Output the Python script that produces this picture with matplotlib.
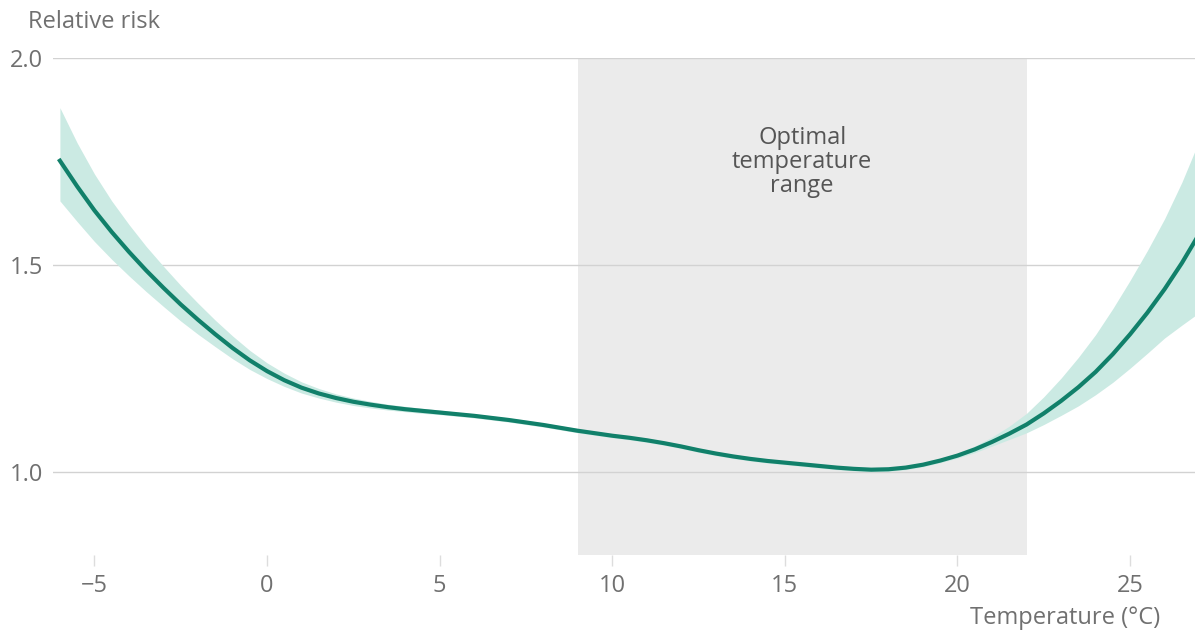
import numpy as np
import matplotlib.pyplot as plt

plt.rcParams['font.family'] = ['Open Sans', 'DejaVu Sans']

# Relative risk by daily mean temperature (every half degree), with CI band
temp = np.arange(-6, 27.5, 0.5)
risk = [1.752, 1.690, 1.632, 1.580, 1.532, 1.487, 1.445, 1.405, 1.368, 1.333,
        1.300, 1.270, 1.244, 1.222, 1.204, 1.190, 1.179, 1.170, 1.163, 1.157,
        1.152, 1.148, 1.144, 1.140, 1.136, 1.131, 1.126, 1.120, 1.114, 1.107,
        1.100, 1.094, 1.088, 1.083, 1.077, 1.070, 1.062, 1.053, 1.045, 1.038,
        1.032, 1.027, 1.023, 1.019, 1.015, 1.011, 1.008, 1.006, 1.007, 1.011,
        1.018, 1.028, 1.040, 1.055, 1.073, 1.093, 1.115, 1.142, 1.172, 1.205,
        1.242, 1.285, 1.333, 1.385, 1.442, 1.505, 1.575]
# distance from the estimate to the upper / lower confidence limit
ci_up = [0.128, 0.105, 0.088, 0.075, 0.066, 0.058, 0.052, 0.046, 0.040, 0.034,
         0.029, 0.024, 0.020, 0.017, 0.014, 0.012, 0.010, 0.009, 0.008, 0.007,
         0.007, 0.006, 0.006, 0.005, 0.005, 0.005, 0.005, 0.005, 0.005, 0.005,
         0.005, 0.005, 0.005, 0.005, 0.005, 0.005, 0.005, 0.005, 0.005, 0.005,
         0.005, 0.005, 0.005, 0.005, 0.005, 0.005, 0.005, 0.005, 0.005, 0.005,
         0.005, 0.005, 0.006, 0.008, 0.012, 0.018, 0.027, 0.040, 0.055, 0.072,
         0.090, 0.110, 0.130, 0.150, 0.170, 0.195, 0.225]
ci_down = [0.097, 0.085, 0.075, 0.066, 0.058, 0.051, 0.045, 0.040, 0.035, 0.030,
           0.026, 0.022, 0.018, 0.015, 0.013, 0.011, 0.010, 0.009, 0.008, 0.007,
           0.006, 0.006, 0.005, 0.005, 0.005, 0.005, 0.005, 0.005, 0.005, 0.005,
           0.005, 0.005, 0.005, 0.005, 0.005, 0.005, 0.005, 0.005, 0.005, 0.005,
           0.005, 0.005, 0.005, 0.005, 0.005, 0.005, 0.005, 0.005, 0.005, 0.005,
           0.005, 0.005, 0.006, 0.008, 0.010, 0.014, 0.020, 0.027, 0.035, 0.045,
           0.055, 0.068, 0.082, 0.098, 0.118, 0.150, 0.190]

optimal_range = (9, 22)
xticks = [-5, 0, 5, 10, 15, 20, 25]
yticks = [1.0, 1.5, 2.0]

GREEN = '#11806a'
BAND = '#cbeae3'
GREY_TXT = '#707070'
FS = 17

risk = np.array(risk)
upper = risk + np.array(ci_up)
lower = risk - np.array(ci_down)

fig = plt.figure(figsize=(11.95, 6.33), dpi=100)
ax = fig.add_axes([53 / 1195, 1 - 555 / 633, 1 - 53 / 1195, (555 - 58) / 633])

ax.axvspan(*optimal_range, color='#ebebeb', lw=0, zorder=0)
for y in yticks:
    ax.axhline(y, color='#d2d2d2', lw=1, zorder=1)

ax.fill_between(temp, lower, upper, color=BAND, lw=0, zorder=2)
ax.plot(temp, risk, color=GREEN, lw=3.0, solid_joinstyle='round', zorder=3)

ax.text(sum(optimal_range) / 2, 1.75, 'Optimal\ntemperature\nrange',
        ha='center', va='center', fontsize=FS, color='#555555', linespacing=1.0)

ax.set_xlim(-6.2, 26.88)
ax.set_ylim(0.8, 2.0)
ax.set_xticks(xticks)
ax.set_xticklabels(['\u22125' if t == -5 else str(t) for t in xticks])
ax.set_yticks(yticks)
ax.set_yticklabels([f'{y:.1f}' for y in yticks])

ax.tick_params(axis='x', length=8, width=1, color='#dddddd', labelsize=FS,
               labelcolor=GREY_TXT, pad=6)
ax.tick_params(axis='y', length=0, labelsize=FS, labelcolor=GREY_TXT, pad=7)
for s in ax.spines.values():
    s.set_visible(False)

fig.text(28 / 1195, 1 - 22 / 633, 'Relative risk', ha='left', va='center',
         fontsize=FS, color=GREY_TXT)
fig.text(1160 / 1195, 1 - 618 / 633, 'Temperature (\u00b0C)', ha='right',
         va='center', fontsize=FS, color=GREY_TXT)

fig.savefig('out.png', dpi=100)
